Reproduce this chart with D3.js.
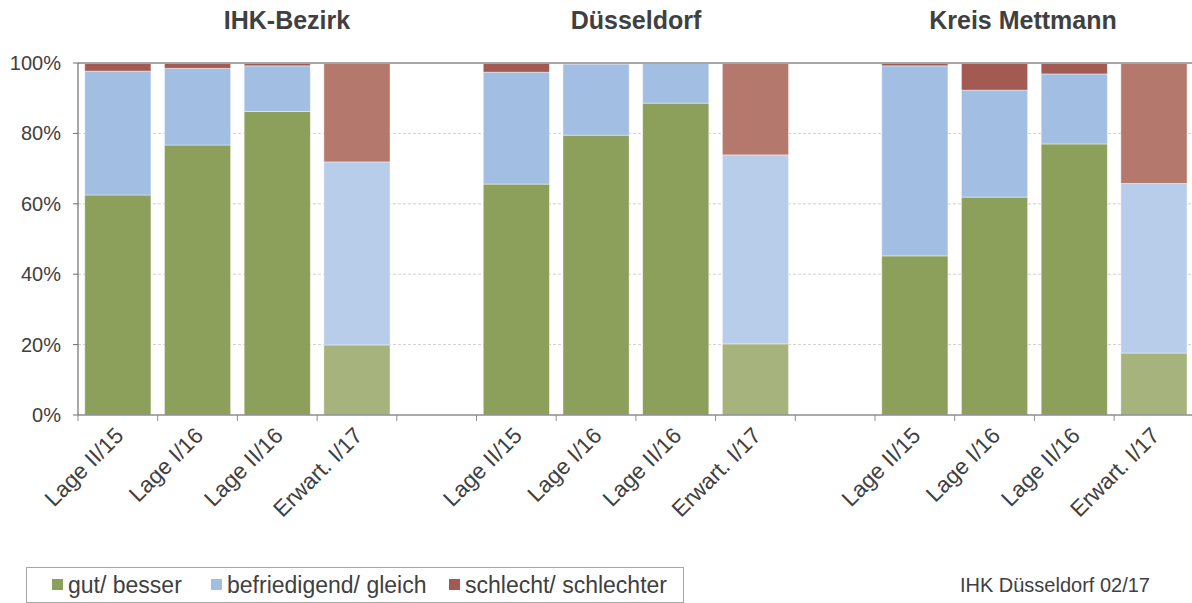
<!DOCTYPE html>
<html>
<head>
<meta charset="utf-8">
<script src="https://cdn.jsdelivr.net/npm/d3@7"></script>
<style>
body { margin: 0; background: #fff; }
text { font-family: "Liberation Sans", Arial, sans-serif; fill: #404040; }
</style>
</head>
<body>
<script>
var groups = ["IHK-Bezirk", "Düsseldorf", "Kreis Mettmann"];
var periods = ["Lage II/15", "Lage I/16", "Lage II/16", "Erwart. I/17"];
var seriesNames = ["gut/ besser", "befriedigend/ gleich", "schlecht/ schlechter"];
var gut = [[62.5, 76.7, 86.2, 19.9], [65.6, 79.5, 88.6, 20.2], [45.2, 61.9, 77.0, 17.6]];
var befriedigend = [[35.2, 21.8, 13.0, 52.0], [31.8, 20.2, 11.4, 53.7], [54.0, 30.4, 19.9, 48.2]];
var schlecht = [[2.3, 1.5, 0.8, 28.1], [2.6, 0.3, 0.0, 26.1], [0.8, 7.7, 3.1, 34.2]];
var yTicks = [0, 20, 40, 60, 80, 100];

var colors = ["#8da05b", "#a2bfe3", "#a35a52"];
var colorsLight = ["#a6b37c", "#b8cdea", "#b5786d"];

var w = 1192, h = 603;
var plotLeft = 78, plotTop = 63, plotBottom = 415;
var slot = 79.7;

// 4 bars per group plus an empty slot between groups
var slots = [];
groups.forEach(function(g, gi) {
    periods.forEach(function(p, pi) { slots.push(gi + "|" + pi); });
    if (gi < groups.length - 1) slots.push("gap" + gi);
});

var xScale = d3.scaleBand()
    .domain(slots)
    .range([plotLeft, plotLeft + slot * slots.length])
    .paddingInner(0.17)
    .paddingOuter(0.085);

var yScale = d3.scaleLinear().domain([0, 100]).range([plotBottom, plotTop]);

var svg = d3.select("body").append("svg").attr("width", w).attr("height", h);

// grid
svg.selectAll("line.grid").data(yTicks.slice(1, 5)).enter().append("line")
    .attr("x1", plotLeft).attr("x2", w)
    .attr("y1", function(d) { return yScale(d); })
    .attr("y2", function(d) { return yScale(d); })
    .attr("stroke", "#d0d0d0").attr("stroke-dasharray", "3,2").attr("stroke-width", 1);

// stacked bars
var rows = [];
groups.forEach(function(g, gi) {
    periods.forEach(function(p, pi) {
        var vals = [gut[gi][pi], befriedigend[gi][pi], schlecht[gi][pi]];
        var y0 = 0;
        vals.forEach(function(v, si) {
            rows.push({key: gi + "|" + pi, s: si, y0: y0, y1: y0 + v, light: pi === 3});
            y0 += v;
        });
    });
});

svg.selectAll("rect.bar").data(rows).enter().append("rect")
    .attr("x", function(d) { return xScale(d.key); })
    .attr("width", xScale.bandwidth())
    .attr("y", function(d) { return yScale(d.y1); })
    .attr("height", function(d) { return yScale(d.y0) - yScale(d.y1); })
    .attr("fill", function(d) { return d.light ? colorsLight[d.s] : colors[d.s]; })
    .attr("stroke", "#ffffff").attr("stroke-opacity", 0.5).attr("stroke-width", 0.8);

// top line at 100%
svg.append("line").attr("x1", plotLeft).attr("x2", w)
    .attr("y1", yScale(100)).attr("y2", yScale(100))
    .attr("stroke", "#a6a6a6").attr("stroke-width", 2);

// y axis
svg.append("line").attr("x1", plotLeft).attr("x2", plotLeft)
    .attr("y1", plotTop).attr("y2", plotBottom)
    .attr("stroke", "#6e6e6e").attr("stroke-width", 1.2);
svg.selectAll("line.ytick").data(yTicks).enter().append("line")
    .attr("x1", plotLeft - 5).attr("x2", plotLeft)
    .attr("y1", function(d) { return yScale(d); })
    .attr("y2", function(d) { return yScale(d); })
    .attr("stroke", "#6e6e6e");
svg.selectAll("text.ylab").data(yTicks).enter().append("text")
    .attr("x", plotLeft - 17)
    .attr("y", function(d) { return yScale(d) + 7; })
    .attr("text-anchor", "end")
    .attr("font-size", "20px")
    .text(function(d) { return d + "%"; });

// x axis
svg.append("line").attr("x1", plotLeft).attr("x2", w)
    .attr("y1", plotBottom).attr("y2", plotBottom)
    .attr("stroke", "#8c8c8c").attr("stroke-width", 1.5);
var bounds = d3.range(slots.length + 1).map(function(i) { return plotLeft + i * slot; });
svg.selectAll("line.xtick").data(bounds).enter().append("line")
    .attr("x1", function(d) { return d; }).attr("x2", function(d) { return d; })
    .attr("y1", plotBottom).attr("y2", plotBottom + 6)
    .attr("stroke", "#8c8c8c");

var labelKeys = slots.filter(function(s) { return s.indexOf("gap") < 0; });
svg.selectAll("text.xlab").data(labelKeys).enter().append("text")
    .attr("transform", function(d) {
        var cx = xScale(d) + xScale.bandwidth() / 2 + 7;
        return "translate(" + cx + "," + 437 + ") rotate(-45)";
    })
    .attr("text-anchor", "end")
    .attr("font-size", "22.5px")
    .text(function(d) { return periods[+d.split("|")[1]]; });

// group titles
var titleX = [287, 636, 1023];
svg.selectAll("text.title").data(groups).enter().append("text")
    .attr("x", function(d, i) { return titleX[i]; })
    .attr("y", 29)
    .attr("text-anchor", "middle")
    .attr("font-size", "25px").attr("font-weight", "bold")
    .text(function(d) { return d; });

// legend
svg.append("rect").attr("x", 26.5).attr("y", 567.5).attr("width", 657).attr("height", 35)
    .attr("fill", "none").attr("stroke", "#a6a6a6");
var legX = [52, 211, 449];
seriesNames.forEach(function(n, i) {
    svg.append("rect").attr("x", legX[i]).attr("y", 579).attr("width", 11).attr("height", 11)
        .attr("fill", colors[i]);
    svg.append("text").attr("x", legX[i] + 16).attr("y", 593)
        .attr("font-size", "23px").text(n);
});

svg.append("text").attr("x", 1150).attr("y", 592)
    .attr("text-anchor", "end").attr("font-size", "20px")
    .text("IHK Düsseldorf 02/17");
</script>
</body>
</html>
